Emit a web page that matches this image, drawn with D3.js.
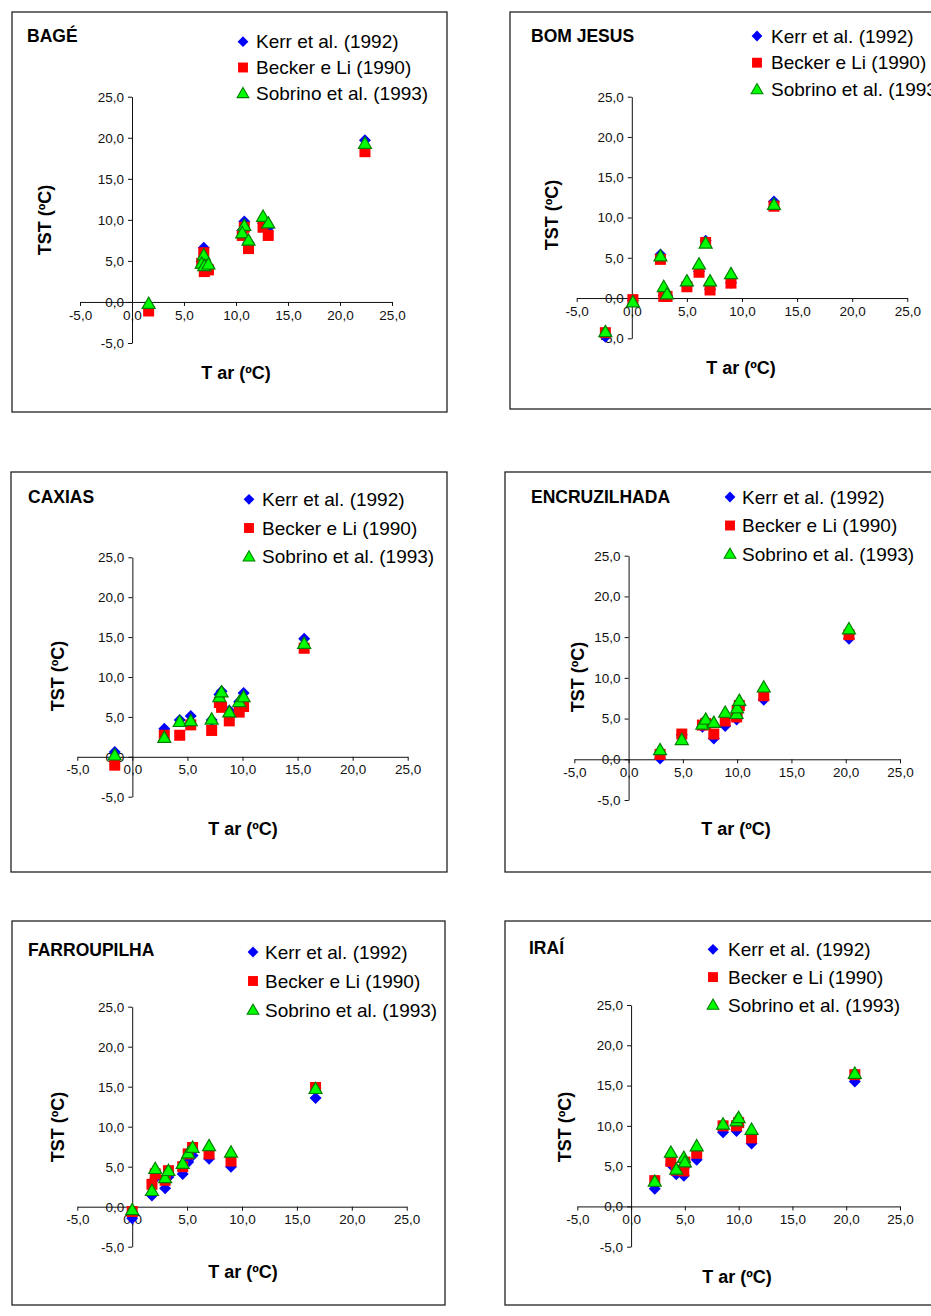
<!DOCTYPE html>
<html><head><meta charset="utf-8">
<script src="https://cdn.jsdelivr.net/npm/d3@7"></script>
<style>body{margin:0;background:#fff} text{font-family:Arial,"Liberation Sans",sans-serif}</style>
</head><body><svg id="c" width="931" height="1316"></svg>
<script>
const stations = ["BAGÉ","BOM JESUS","CAXIAS","ENCRUZILHADA","FARROUPILHA","IRAÍ"];
const seriesNames = ["Kerr et al. (1992)","Becker e Li (1990)","Sobrino et al. (1993)"];
const tickValues = [-5,0,5,10,15,20,25];
const xTitle = "T ar (ºC)";
const yTitle = "TST (ºC)";

const bageTar     = [1.6, 6.9, 6.7, 6.95, 7.35, 10.8, 10.6, 11.2, 12.6, 13.1, 22.4];
const bageKerr    = [-0.6, 6.6, 4.9, 4.1, 4.3, 9.8, 8.7, 7.2, 9.6, 9.0, 19.7];
const bageBecker  = [-1.1, 6.0, 4.7, 3.7, 3.9, 9.1, 8.1, 6.5, 9.1, 8.1, 18.3];
const bageSobrino = [-0.2, 5.7, 4.7, 4.4, 4.6, 9.3, 8.4, 7.5, 10.4, 9.6, 19.3];

const bomTar     = [-2.4, 0.1, 2.6, 2.9, 3.2, 5.0, 6.1, 6.7, 7.1, 9.0, 12.9];
const bomKerr    = [-4.8, -0.3, 5.4, 0.3, 0.3, 1.5, 3.3, 7.1, 1.1, 1.9, 12.0];
const bomBecker  = [-4.3, -0.2, 4.8, 0.2, 0.2, 1.4, 3.2, 6.9, 1.0, 1.85, 11.4];
const bomSobrino = [-4.2, -0.5, 5.2, 1.4, 0.5, 2.1, 4.2, 6.8, 2.1, 3.0, 11.6];

const caxTar     = [-1.6, 2.9, 4.3, 5.3, 7.2, 7.9, 8.1, 8.8, 9.7, 10.1, 15.6];
const caxKerr    = [0.6, 3.5, 4.6, 5.1, 4.6, 7.8, 8.2, 5.8, 6.9, 8.0, 14.8];
const caxBecker  = [-1.05, 2.7, 2.7, 4.0, 3.3, 6.8, 6.2, 4.5, 5.6, 6.3, 13.6];
const caxSobrino = [0.2, 2.4, 4.4, 4.5, 4.7, 7.5, 8.1, 5.6, 6.9, 7.5, 14.2];

const encTar     = [2.9, 4.9, 6.8, 7.1, 7.85, 8.9, 9.95, 10.0, 10.2, 12.45, 20.3];
const encKerr    = [0.1, 3.0, 4.0, 4.4, 2.55, 4.1, 4.9, 5.9, 6.5, 7.3, 14.8];
const encBecker  = [0.6, 3.1, 4.2, 4.4, 3.1, 4.7, 5.2, 6.0, 6.6, 7.8, 15.3];
const encSobrino = [1.15, 2.4, 4.3, 4.9, 4.5, 5.75, 5.6, 6.3, 7.2, 8.85, 16.0];

const farTar     = [0.0, 1.8, 2.1, 3.0, 3.3, 4.6, 5.1, 5.5, 7.0, 9.0, 16.7];
const farKerr    = [-1.45, 1.4, 3.6, 2.3, 3.7, 4.1, 5.6, 6.4, 6.0, 5.0, 13.6];
const farBecker  = [-0.6, 2.8, 4.1, 3.3, 4.5, 5.0, 6.6, 7.4, 6.6, 5.7, 14.9];
const farSobrino = [-0.4, 2.0, 4.75, 3.6, 4.5, 5.4, 6.7, 7.4, 7.6, 6.8, 14.75];

const iraTar     = [2.2, 3.7, 4.2, 4.9, 5.0, 6.1, 8.55, 9.8, 10.0, 11.2, 20.8];
const iraKerr    = [2.2, 5.2, 4.0, 3.8, 4.9, 5.8, 9.2, 9.35, 10.0, 7.8, 15.5];
const iraBecker  = [3.2, 5.6, 4.5, 4.4, 5.5, 6.6, 10.0, 10.0, 10.4, 8.5, 16.35];
const iraSobrino = [3.1, 6.7, 4.6, 6.05, 5.5, 7.5, 10.2, 10.6, 11.0, 9.55, 16.5];

const stationData = [
  [bageTar, bageKerr, bageBecker, bageSobrino],
  [bomTar, bomKerr, bomBecker, bomSobrino],
  [caxTar, caxKerr, caxBecker, caxSobrino],
  [encTar, encKerr, encBecker, encSobrino],
  [farTar, farKerr, farBecker, farSobrino],
  [iraTar, iraKerr, iraBecker, iraSobrino]
];

// layout (pixels)
const layout = [
  {box:[12,12,447,412],  xr:[80,392],    yr:[343,96.7],    title:[27,36],   leg:[243,256,41.7,25.8], xt:[236,373],  yt:[45,220]},
  {box:[510,12,945,409], xr:[576.7,907.3], yr:[338.3,96.7], title:[531,36],  leg:[757,771,36,26.7],   xt:[741,368],  yt:[552,215]},
  {box:[11,472,447,872], xr:[77.3,407.7], yr:[796.7,557.3], title:[28,497],  leg:[249,262,499.3,28.7], xt:[243,829],  yt:[58,676]},
  {box:[505,472,945,872],xr:[574.3,900],  yr:[800,555.7],   title:[531,497], leg:[730,742,497,28.5],   xt:[736,829],  yt:[578,677]},
  {box:[12,921,445,1305],xr:[77.3,406.7], yr:[1246.7,1006.7], title:[28,950], leg:[253,265,952,29],    xt:[243,1272], yt:[58,1127]},
  {box:[505,921,945,1305],xr:[577.3,900], yr:[1246.7,1005], title:[529,948], leg:[713,728,949.3,27.8], xt:[737,1277], yt:[565,1127]}
];

const colors = {kerr:"#0000FF", becker:"#FF0000", sobFill:"#00FF00", sobStroke:"#008000"};
const diamond = "M0,-6L6,0L0,6L-6,0Z";
const square = "M-5.5,-5.5H5.5V5.5H-5.5Z";
const triangle = "M0,-6.5L6.5,4.8H-6.5Z";
const markerDefs = [
  {d: diamond, fill: colors.kerr, stroke: "none"},
  {d: square, fill: colors.becker, stroke: "none"},
  {d: triangle, fill: colors.sobFill, stroke: colors.sobStroke}
];
const fmt = d => (d < 0 ? "-" : "") + Math.abs(d).toFixed(1).replace(".", ",");

const svg = d3.select("#c");

stations.forEach((name, i) => {
  const L = layout[i];
  const [tar, ...series] = stationData[i];
  const g = svg.append("g");
  g.append("rect").attr("x", L.box[0]).attr("y", L.box[1])
    .attr("width", L.box[2]-L.box[0]).attr("height", L.box[3]-L.box[1])
    .attr("fill", "#fff").attr("stroke", "#222").attr("stroke-width", 1.3);

  const x = d3.scaleLinear().domain([-5,25]).range(L.xr);
  const y = d3.scaleLinear().domain([-5,25]).range(L.yr);

  const ya = g.append("g").attr("transform", `translate(${x(0)},0)`)
    .call(d3.axisLeft(y).tickValues(tickValues).tickSize(4).tickSizeOuter(0).tickPadding(4).tickFormat(fmt));
  const xa = g.append("g").attr("transform", `translate(0,${y(0)})`)
    .call(d3.axisBottom(x).tickValues(tickValues).tickSize(4).tickSizeOuter(0).tickPadding(4).tickFormat(fmt));
  [ya, xa].forEach(a => {
    a.selectAll("text").attr("font-size", 13.5).attr("fill", "#111").attr("font-family", "Arial, 'Liberation Sans', sans-serif");
    a.selectAll("path,line").attr("stroke", "#111");
  });

  series.forEach((vals, si) => {
    const m = markerDefs[si];
    g.append("g").selectAll("path").data(vals).join("path")
      .attr("d", m.d).attr("fill", m.fill).attr("stroke", m.stroke).attr("stroke-width", 1.2)
      .attr("transform", (v, j) => `translate(${x(tar[j])},${y(v)})`);
  });

  // title
  g.append("text").attr("x", L.title[0]).attr("y", L.title[1]).attr("dy", "0.35em")
    .attr("font-size", 17.5).attr("font-weight", "bold").text(name);

  // legend
  seriesNames.forEach((s, si) => {
    const m = markerDefs[si];
    const yy = L.leg[2] + si * L.leg[3];
    g.append("path").attr("d", m.d).attr("fill", m.fill).attr("stroke", m.stroke).attr("stroke-width", 1.2)
      .attr("transform", `translate(${L.leg[0]},${yy}) scale(0.9)`);
    g.append("text").attr("x", L.leg[1]).attr("y", yy).attr("dy", "0.35em")
      .attr("font-size", 19).attr("fill", "#000").text(s);
  });

  // axis titles
  g.append("text").attr("x", L.xt[0]).attr("y", L.xt[1]).attr("dy", "0.35em")
    .attr("text-anchor", "middle").attr("font-size", 18).attr("font-weight", "bold").text(xTitle);
  g.append("text").attr("transform", `translate(${L.yt[0]},${L.yt[1]}) rotate(-90)`).attr("dy", "0.35em")
    .attr("text-anchor", "middle").attr("font-size", 18).attr("font-weight", "bold").text(yTitle);
});
</script></body></html>
